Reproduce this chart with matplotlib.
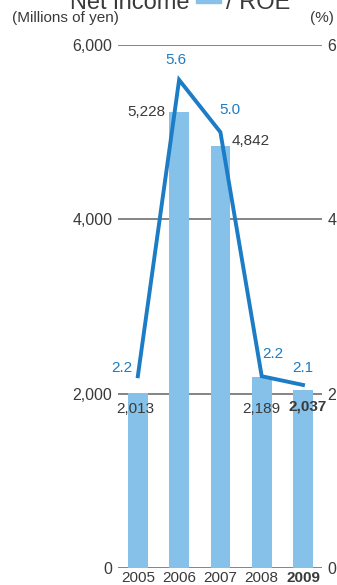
import matplotlib
matplotlib.use('Agg')
import matplotlib.pyplot as plt
from matplotlib.patches import Rectangle

plt.rcParams['font.family'] = ['Liberation Sans', 'DejaVu Sans']

years = ['2005', '2006', '2007', '2008', '2009']
net_income = [2013, 5228, 4842, 2189, 2037]
income_labels = ['2,013', '5,228', '4,842', '2,189', '2,037']
roe = [2.2, 5.6, 5.0, 2.2, 2.1]
roe_labels = ['2.2', '5.6', '5.0', '2.2', '2.1']

bar_color = '#86c1ea'
line_color = '#1c7cc5'
text_color = '#3a3a3a'
grid_color = '#707070'

W, H = 337, 585
fig = plt.figure(figsize=(W / 100, H / 100), dpi=100)

def fx(px):
    return px / W

def fy(py):
    return 1 - py / H

ax = fig.add_axes([fx(118), fy(568), fx(322) - fx(118), fy(45) - fy(568)])
x = list(range(len(years)))

for v in [0, 2000, 4000, 6000]:
    ax.axhline(v, color=grid_color, lw=1.2, zorder=0)

ax.bar(x, net_income, width=0.48, color=bar_color, zorder=2)
ax.set_xlim(-0.48, 4.46)
ax.set_ylim(0, 6000)
ax.set_yticks([0, 2000, 4000, 6000])
ax.set_yticklabels(['0', '2,000', '4,000', '6,000'], fontsize=11.5, color=text_color)
ax.set_xticks(x)
ax.set_xticklabels(years, fontsize=11, color=text_color)
ax.get_xticklabels()[-1].set_fontweight('bold')
ax.tick_params(axis='y', length=0, pad=4)
ax.tick_params(axis='x', length=0, pad=2)
for s in ax.spines.values():
    s.set_visible(False)

ax2 = ax.twinx()
ax2.set_ylim(0, 6)
ax2.set_yticks([0, 2, 4, 6])
ax2.set_yticklabels(['0', '2', '4', '6'], fontsize=11.5, color=text_color)
ax2.tick_params(axis='y', length=0, pad=4)
for s in ax2.spines.values():
    s.set_visible(False)
ax2.plot(x, roe, color=line_color, lw=2.8, solid_joinstyle='miter', zorder=3)

# bar value labels
inc_pos = [(-0.05, 1900, 'center', 'top'), (-0.33, 5228, 'right', 'center'),
           (0.27, 4900, 'left', 'center'), (0.0, 1900, 'center', 'top'),
           (0.1, 1930, 'center', 'top')]
for i, (dx, yv, ha, va) in enumerate(inc_pos):
    ax.text(i + dx, yv, income_labels[i], ha=ha, va=va, fontsize=11,
            color=text_color, fontweight='bold' if i == 4 else 'normal', zorder=4)

# ROE labels
roe_pos = [(-0.38, 2.3), (-0.08, 5.83), (0.22, 5.25), (0.27, 2.45), (0.0, 2.3)]
for i, (dx, yv) in enumerate(roe_pos):
    ax2.text(i + dx, yv, roe_labels[i], ha='center', va='center', fontsize=11,
             color=line_color, zorder=4)

fig.text(fx(12), fy(18), '(Millions of yen)', ha='left', va='center',
         fontsize=11, color=text_color)
fig.text(fx(334), fy(18), '(%)', ha='right', va='center',
         fontsize=11, color=text_color)

# title, cut off at the top edge
fig.text(fx(190), fy(9), 'Net income', ha='right', va='baseline',
         fontsize=17, color=text_color)
fig.patches.append(Rectangle((fx(196), fy(3)), fx(25), fy(0) - fy(3) + 0.02,
                             transform=fig.transFigure, color=bar_color))
fig.text(fx(226), fy(9), '/ ROE', ha='left', va='baseline',
         fontsize=17, color=text_color)

fig.savefig('out.png', dpi=100)
